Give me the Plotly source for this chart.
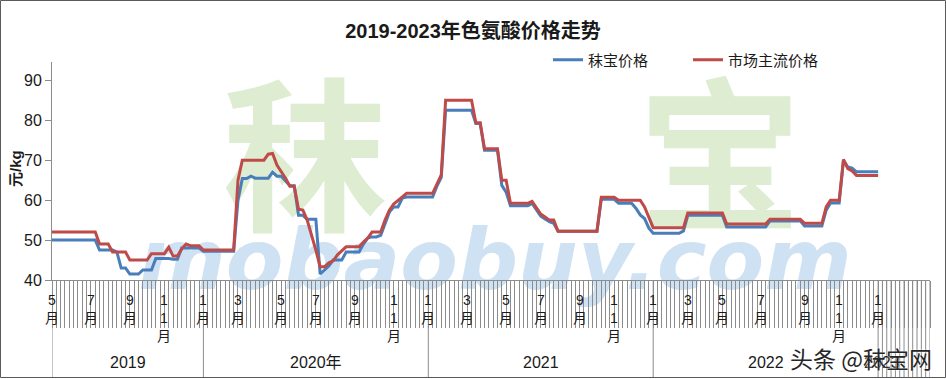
import plotly.graph_objects as go

# ---------------- data (weekly quotes, May 2019 - Jan 2023) ----------------
mobao_price = [
    50, 50, 50, 50, 50, 50, 50, 50, 50, 50, 50,
    47.5, 47.5, 47.5, 47.5, 47, 43, 43, 41.5, 41.5, 41.5,
    42.5, 42.5, 42.5, 45.4, 45.4, 45.4, 45.4, 45.2, 45.2,
    48, 48, 48, 48, 48,
    47.2, 47.2, 47.2, 47.2, 47.2, 47.2, 47.2, 47.2,
    60, 65.4, 65.4, 66, 65.5, 65.5, 65.5, 65.5, 67, 66, 66, 64.8,
    63.6, 63.6, 56.2, 56.2, 55.2, 55.2, 55.2,
    41.5, 42.5, 43.5, 45, 45, 45, 47, 47, 47, 47, 49, 50.5, 50.8, 50.8, 51.2,
    54, 57, 58.3, 58.3, 60.5,
    60.8, 60.8, 60.8, 60.8, 60.8, 60.8, 60.8, 63.5, 65.7,
    82.5, 82.5, 82.5, 82.5, 82.5, 82.5, 82.5, 79.2, 79.2,
    72.5, 72.5, 72.5, 72.5, 63.7, 62,
    58.6, 58.6, 58.6, 58.6, 58.6, 59.2, 57.5, 56, 55.3, 54.6, 54.2,
    52.2, 52.2, 52.2, 52.2, 52.2, 52.2, 52.2, 52.2, 52.2, 52.2,
    60.2, 60.2, 60.2, 60.2, 59.2, 59.2, 59.2, 59.2, 58, 56.3, 55.4, 53,
    51.7, 51.7, 51.7, 51.7, 51.7, 51.7, 51.7, 52.3,
    56.2, 56.2, 56.2, 56.2, 56.2, 56.2, 56.2, 56.2, 56.2,
    53.3, 53.3, 53.3, 53.3, 53.3, 53.3, 53.3, 53.3, 53.3, 53.3,
    54.8, 54.8, 54.8, 54.8, 54.8, 54.8, 54.8, 54.8,
    53.5, 53.5, 53.5, 53.5, 53.5, 57.5, 59.3, 59.3, 59.3,
    70, 68.3, 68, 67.1, 67.1, 67.1, 67.1, 67.1, 67.1,
]
market_price = [
    52, 52, 52, 52, 52, 52, 52, 52, 52, 52, 52,
    49, 49, 49, 47, 47, 47, 47, 45, 45, 45, 45, 45,
    46.6, 46.6, 46.6, 46.6, 48.2, 46, 46, 47.8, 49, 48.6, 48.6, 48.6,
    47.5, 47.5, 47.5, 47.5, 47.5, 47.5, 47.5, 47.5,
    65, 70, 70, 70, 70, 70, 70, 71.5, 71.7, 68.8, 67.2, 65.5,
    63.5, 63.5, 57.7, 57.5, 55, 51.5, 47.5,
    43.3, 43.3, 44.3, 44.8, 46.3, 47.3, 48.3, 48.3, 48.3, 48.3, 49.5, 50.5,
    52, 52, 52, 55, 57.5, 59, 60, 60.8,
    61.7, 61.7, 61.7, 61.7, 61.7, 61.7, 61.7, 64, 66.3,
    85, 85, 85, 85, 85, 85, 85, 79.4, 79.4,
    72.9, 72.9, 72.9, 72.9, 65, 65,
    59.2, 59.2, 59.2, 59.2, 59.2, 59.7, 58, 56.5, 55.8, 55, 55,
    52.2, 52.2, 52.2, 52.2, 52.2, 52.2, 52.2, 52.2, 52.2, 52.2,
    60.7, 60.7, 60.7, 60.7, 60, 60, 60, 60, 60, 60, 58.3, 55.5,
    53.1, 53.1, 53.1, 53.1, 53.1, 53.1, 53.1, 53.1,
    56.8, 56.8, 56.8, 56.8, 56.8, 56.8, 56.8, 56.8, 56.8,
    54, 54, 54, 54, 54, 54, 54, 54, 54, 54,
    55.2, 55.2, 55.2, 55.2, 55.2, 55.2, 55.2, 55.2,
    54.2, 54.2, 54.2, 54.2, 54.2, 58.3, 60, 60, 60,
    70.2, 67.9, 67.3, 66.2, 66.2, 66.2, 66.2, 66.2, 66.2,
]
weeks = list(range(len(mobao_price)))       # weekly category index
axis_last_week = 203                         # category axis runs on past the data

month_week = [0, 9, 18, 26, 35, 43, 53, 61, 70, 79, 87, 96, 105, 113, 122, 130,
              139, 147, 155, 164, 174, 182, 191]
month_text = ["5月", "7月", "9月", "11月", "1月", "3月", "5月", "7月", "9月", "11月",
              "1月", "3月", "5月", "7月", "9月", "11月", "1月", "3月", "5月", "7月",
              "9月", "11月", "1月"]
year_text = ["2019", "2020年", "2021", "2022", "2023"]
year_start = [0, 35, 87, 139, 191]
year_end = [35, 87, 139, 191, 203]

series_names = ["秣宝价格", "市场主流价格"]
y_ticks = [40, 50, 60, 70, 80, 90]

# ---------------- layout helpers ----------------
W, H = 946, 379
ML, MR, MT, MB = 52, 16, 62, 99
PW, PH = W - ML - MR, H - MT - MB
def px_x(px):
    return (px - ML) / PW
def px_y(py):
    return (H - MB - py) / PH

LAT = "Liberation Sans, Arial, Noto Sans CJK SC, sans-serif"
GRAY = "#8c8c8c"

fig = go.Figure()
fig.add_trace(go.Scatter(x=weeks, y=mobao_price, mode="lines", name=series_names[0],
                         line=dict(color="#4a7ebb", width=3)))
fig.add_trace(go.Scatter(x=weeks, y=market_price, mode="lines", name=series_names[1],
                         line=dict(color="#be4b48", width=3)))

shapes = []
# background watermark (below traces)
for ch, a, b in (("秣", 140, 470), ("宝", 560, 880)):
    shapes.append(dict(type="rect", xref="paper", yref="paper", layer="below",
                       x0=px_x(a), x1=px_x(b), y0=px_y(250), y1=px_y(95),
                       line=dict(width=0), fillcolor="rgba(0,0,0,0)",
                       label=dict(text=ch, textposition="middle center",
                                  font=dict(size=165, color="#deecd2", weight="bold",
                                            family="Noto Sans CJK SC"))))
shapes.append(dict(type="rect", xref="paper", yref="paper", layer="below",
                   x0=px_x(120), x1=px_x(870), y0=px_y(292), y1=px_y(215),
                   line=dict(width=0), fillcolor="rgba(0,0,0,0)",
                   label=dict(text="mobaobuy.com", textposition="middle center",
                              font=dict(size=84, color="#cfe2f3", family="DejaVu Sans",
                                        weight="bold", style="italic"))))

# year dividers in the category label area
bottom = px_y(378)
for s in year_start[:4]:
    shapes.append(dict(type="line", xref="x", yref="paper", x0=s, x1=s, y0=0, y1=bottom,
                       line=dict(color=GRAY, width=1)))
for k in range(year_start[4], axis_last_week + 1):
    shapes.append(dict(type="line", xref="x", yref="paper", x0=k, x1=k, y0=0, y1=bottom,
                       line=dict(color=GRAY, width=1)))
# chart border
shapes.append(dict(type="rect", xref="paper", yref="paper",
                   x0=px_x(0.5), x1=px_x(945.5), y0=px_y(377.5), y1=px_y(0.5),
                   line=dict(color="#5a5a5a", width=1)))

annotations = []
for w, t in zip(month_week, month_text):
    num, unit = t[:-1], t[-1]
    txt = "<br>".join(list(num) + [unit])
    annotations.append(dict(x=w, y=px_y(290), xref="x", yref="paper", text=txt,
                            showarrow=False, yanchor="top", xanchor="center",
                            font=dict(size=14, color="#1a1a1a", family=LAT)))
for t, s, e in zip(year_text, year_start, year_end):
    cx = (s + e) / 2 if t != "2023" else s + 0.8
    annotations.append(dict(x=cx, y=px_y(362), xref="x", yref="paper", text=t,
                            showarrow=False, yanchor="middle", xanchor="center",
                            font=dict(size=16, color="#1a1a1a", family=LAT)))
annotations.append(dict(x=px_x(15), y=px_y(169), xref="paper", yref="paper",
                        text="<b>元/kg</b>", textangle=-90, showarrow=False,
                        xanchor="center", yanchor="middle",
                        font=dict(size=15, color="#1a1a1a", family=LAT)))
annotations.append(dict(x=px_x(861), y=px_y(358), xref="paper", yref="paper",
                        text="头条 @秣宝网", showarrow=False, borderpad=0,
                        xanchor="center", yanchor="middle",
                        font=dict(size=23, color="#262626", family="Noto Sans CJK SC",
                                  shadow="0px 0px 2px #ffffff")))

fig.update_layout(
    width=W, height=H,
    margin=dict(l=ML, r=MR, t=MT, b=MB),
    paper_bgcolor="white", plot_bgcolor="white",
    title=dict(text="<b>2019-2023年色氨酸价格走势</b>", x=0.5, xref="container",
               xanchor="center", y=1 - 31 / H, yanchor="middle",
               font=dict(size=20, color="#1a1a1a", family=LAT)),
    xaxis=dict(range=[0, axis_last_week], tickmode="array",
               tickvals=list(range(axis_last_week + 1)), ticks="outside", ticklen=47,
               tickcolor=GRAY, tickwidth=1, showticklabels=False, showline=True,
               linecolor=GRAY, linewidth=1, showgrid=False, zeroline=False),
    yaxis=dict(range=[40, 94.6], tickmode="array", tickvals=y_ticks, ticks="outside",
               ticklen=6, tickcolor=GRAY, showline=True, linecolor=GRAY, linewidth=1,
               showgrid=False, zeroline=False,
               tickfont=dict(size=16, color="#1a1a1a", family=LAT)),
    legend=dict(orientation="h", x=px_x(548), y=px_y(60), xanchor="left",
                yanchor="middle", font=dict(size=15, color="#1a1a1a", family=LAT),
                entrywidth=95, bgcolor="rgba(0,0,0,0)"),
    shapes=shapes,
    annotations=annotations,
)

fig.write_html("out.html")
